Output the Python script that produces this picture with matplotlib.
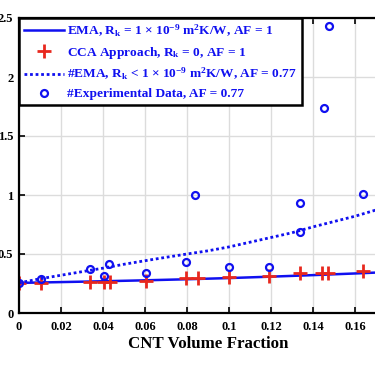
import numpy as np
import matplotlib
matplotlib.use("Agg")
import matplotlib.pyplot as plt

plt.rcParams['font.family'] = 'Liberation Serif'
plt.rcParams['font.weight'] = 'bold'
plt.rcParams['mathtext.fontset'] = 'custom'
plt.rcParams['mathtext.rm'] = 'Liberation Serif:bold'
plt.rcParams['mathtext.it'] = 'Liberation Serif:bold:italic'
plt.rcParams['mathtext.bf'] = 'Liberation Serif:bold'

# EMA model, Rk = 1e-9, AF = 1 (solid)
ema_x = [0, 0.02, 0.04, 0.06, 0.08, 0.10, 0.12, 0.14, 0.16, 0.18]
ema_y = [0.255, 0.262, 0.269, 0.277, 0.286, 0.296, 0.308, 0.321, 0.335, 0.350]

# #EMA, Rk < 1e-9, AF = 0.77 (dotted)
ema77_x = [0, 0.01, 0.02, 0.03, 0.04, 0.05, 0.06, 0.07, 0.08, 0.09,
           0.10, 0.11, 0.12, 0.13, 0.14, 0.15, 0.16, 0.17, 0.18]
ema77_y = [0.255, 0.29, 0.32, 0.35, 0.38, 0.413, 0.443, 0.472, 0.50, 0.527,
           0.56, 0.60, 0.64, 0.68, 0.73, 0.775, 0.82, 0.873, 0.93]

# CCA approach, Rk = 0, AF = 1
cca_x = [0, 0.0103, 0.0338, 0.0406, 0.0433, 0.0605, 0.0795, 0.085,
         0.1, 0.119, 0.134, 0.1441, 0.1473, 0.164]
cca_y = [0.255, 0.252, 0.263, 0.263, 0.263, 0.274, 0.294, 0.294,
         0.308, 0.316, 0.336, 0.336, 0.336, 0.356]

# experimental data, AF = 0.77
exp_x = [0, 0.0103, 0.0338, 0.0406, 0.043, 0.0605, 0.0795, 0.0838,
         0.1, 0.119, 0.134, 0.134, 0.145, 0.1476, 0.1637]
exp_y = [0.255, 0.29, 0.373, 0.316, 0.415, 0.342, 0.43, 1.0,
         0.39, 0.392, 0.93, 0.69, 1.74, 2.43, 1.006]

xticks = [0, 0.02, 0.04, 0.06, 0.08, 0.1, 0.12, 0.14, 0.16, 0.18]
xticklabels = ['0', '0.02', '0.04', '0.06', '0.08', '0.1', '0.12', '0.14', '0.16', '0.18']
yticks = [0, 0.5, 1, 1.5, 2, 2.5]
yticklabels = ['0', '0.5', '1', '1.5', '2', '2.5']

fig = plt.figure(figsize=(3.75, 3.66), dpi=100)
ax = fig.add_axes([19/375, 53/366, 378/375, 295/366])

blue = '#1010f0'
red = '#e8281e'

ax.plot(ema_x, ema_y, '-', color=blue, lw=1.8,
        label='EMA, R$_\\mathrm{k}$ = 1 × 10$^{-9}$ m$^2$K/W, AF = 1')
ax.plot(cca_x, cca_y, '+', color=red, ms=10.5, mew=2, linestyle='none',
        label='CCA Approach, R$_\\mathrm{k}$ = 0, AF = 1')
ax.plot(ema77_x, ema77_y, color=blue, lw=2, linestyle=(0, (1, 1)),
        label='#EMA, R$_\\mathrm{k}$ < 1 × 10$^{-9}$ m$^2$K/W, AF = 0.77')
ax.plot(exp_x, exp_y, 'o', color=blue, ms=5, mew=1.6, mfc='none', linestyle='none',
        label='#Experimental Data, AF = 0.77')

ax.set_xlim(0, 0.18)
ax.set_ylim(0, 2.5)
ax.set_xticks(xticks)
ax.set_xticklabels(xticklabels)
ax.set_yticks(yticks)
ax.set_yticklabels(yticklabels)
ax.tick_params(direction='in', top=True, right=True, labelsize=9, width=1.2, length=4)
ax.tick_params(axis='x', pad=6)
ax.tick_params(axis='y', pad=4)
ax.grid(True, color='#dcdcdc', lw=1)
ax.set_axisbelow(True)
for s in ax.spines.values():
    s.set_linewidth(1.6)
ax.set_xlabel('CNT Volume Fraction', fontsize=12.2, fontweight='bold', labelpad=2)

leg = ax.legend(loc='upper left', borderaxespad=0, fancybox=False, framealpha=1,
                edgecolor='black', fontsize=9.6, handlelength=3.0, handletextpad=0.25,
                labelspacing=0.42, borderpad=0.35)
leg.get_frame().set_linewidth(1.8)
for t in leg.get_texts():
    t.set_color(blue)

fig.savefig('out.png', dpi=100)
